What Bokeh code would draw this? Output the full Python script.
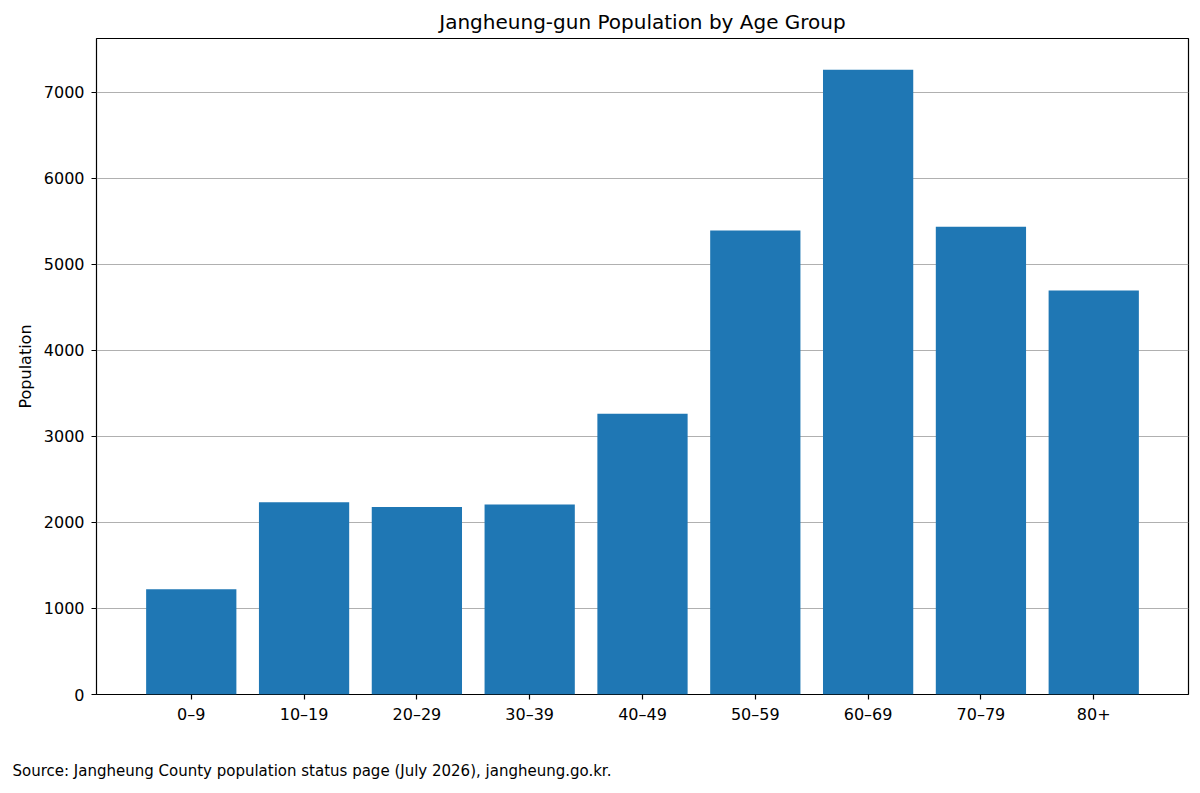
from bokeh.plotting import figure
from bokeh.models import Range1d, FixedTicker, Title
from bokeh.embed import file_html
from bokeh.resources import INLINE

categories = ["0–9", "10–19", "20–29", "30–39", "40–49", "50–59", "60–69", "70–79", "80+"]
population = [1224, 2235, 2180, 2208, 3265, 5394, 7264, 5437, 4697]
y_ticks = [0, 1000, 2000, 3000, 4000, 5000, 6000, 7000]

FONT = "DejaVu Sans"
xs = list(range(len(categories)))

p = figure(width=1200, height=793, output_backend="svg", toolbar_location=None,
           x_range=Range1d(-0.84, len(categories) - 1 + 0.84),
           y_range=Range1d(0, max(population) * 1.05),
           min_border_left=96, min_border_right=12, min_border_top=38, min_border_bottom=99,
           frame_width=1092, frame_height=656)

p.vbar(x=xs, top=population, width=0.8, bottom=0, fill_color="#1f77b4", line_color=None)

p.title.text = "Jangheung-gun Population by Age Group"
p.title.align = "center"
p.title.text_font = FONT
p.title.text_font_size = "20px"
p.title.text_font_style = "normal"
p.title.text_color = "black"
p.title.standoff = 10

p.outline_line_color = "black"
p.outline_line_width = 1.2
p.xgrid.visible = False
p.ygrid.grid_line_color = "#b0b0b0"
p.ygrid.grid_line_width = 1.2

p.xaxis.ticker = FixedTicker(ticks=xs)
p.xaxis.major_label_overrides = {i: c for i, c in enumerate(categories)}
p.yaxis.ticker = FixedTicker(ticks=y_ticks)
p.yaxis.axis_label = "Population"

for ax in (p.xaxis[0], p.yaxis[0]):
    ax.axis_line_color = None
    ax.minor_tick_line_color = None
    ax.major_tick_in = 0
    ax.major_tick_out = 5
    ax.major_tick_line_color = "black"
    ax.major_tick_line_width = 1.2
    ax.major_label_standoff = 7
    ax.major_label_text_font = FONT
    ax.major_label_text_font_size = "16px"
    ax.major_label_text_color = "black"
    ax.axis_label_text_font = FONT
    ax.axis_label_text_font_size = "16px"
    ax.axis_label_text_font_style = "normal"
    ax.axis_label_text_color = "black"
    ax.axis_label_standoff = 6
p.xaxis[0].major_label_standoff = 5

src = Title(text="Source: Jangheung County population status page (July 2026), jangheung.go.kr.",
            align="left", offset=-84, text_font=FONT, text_font_size="15px",
            text_font_style="normal", text_color="black", standoff=66)
p.add_layout(src, "below")

open("out.html", "w").write(file_html(p, INLINE))
